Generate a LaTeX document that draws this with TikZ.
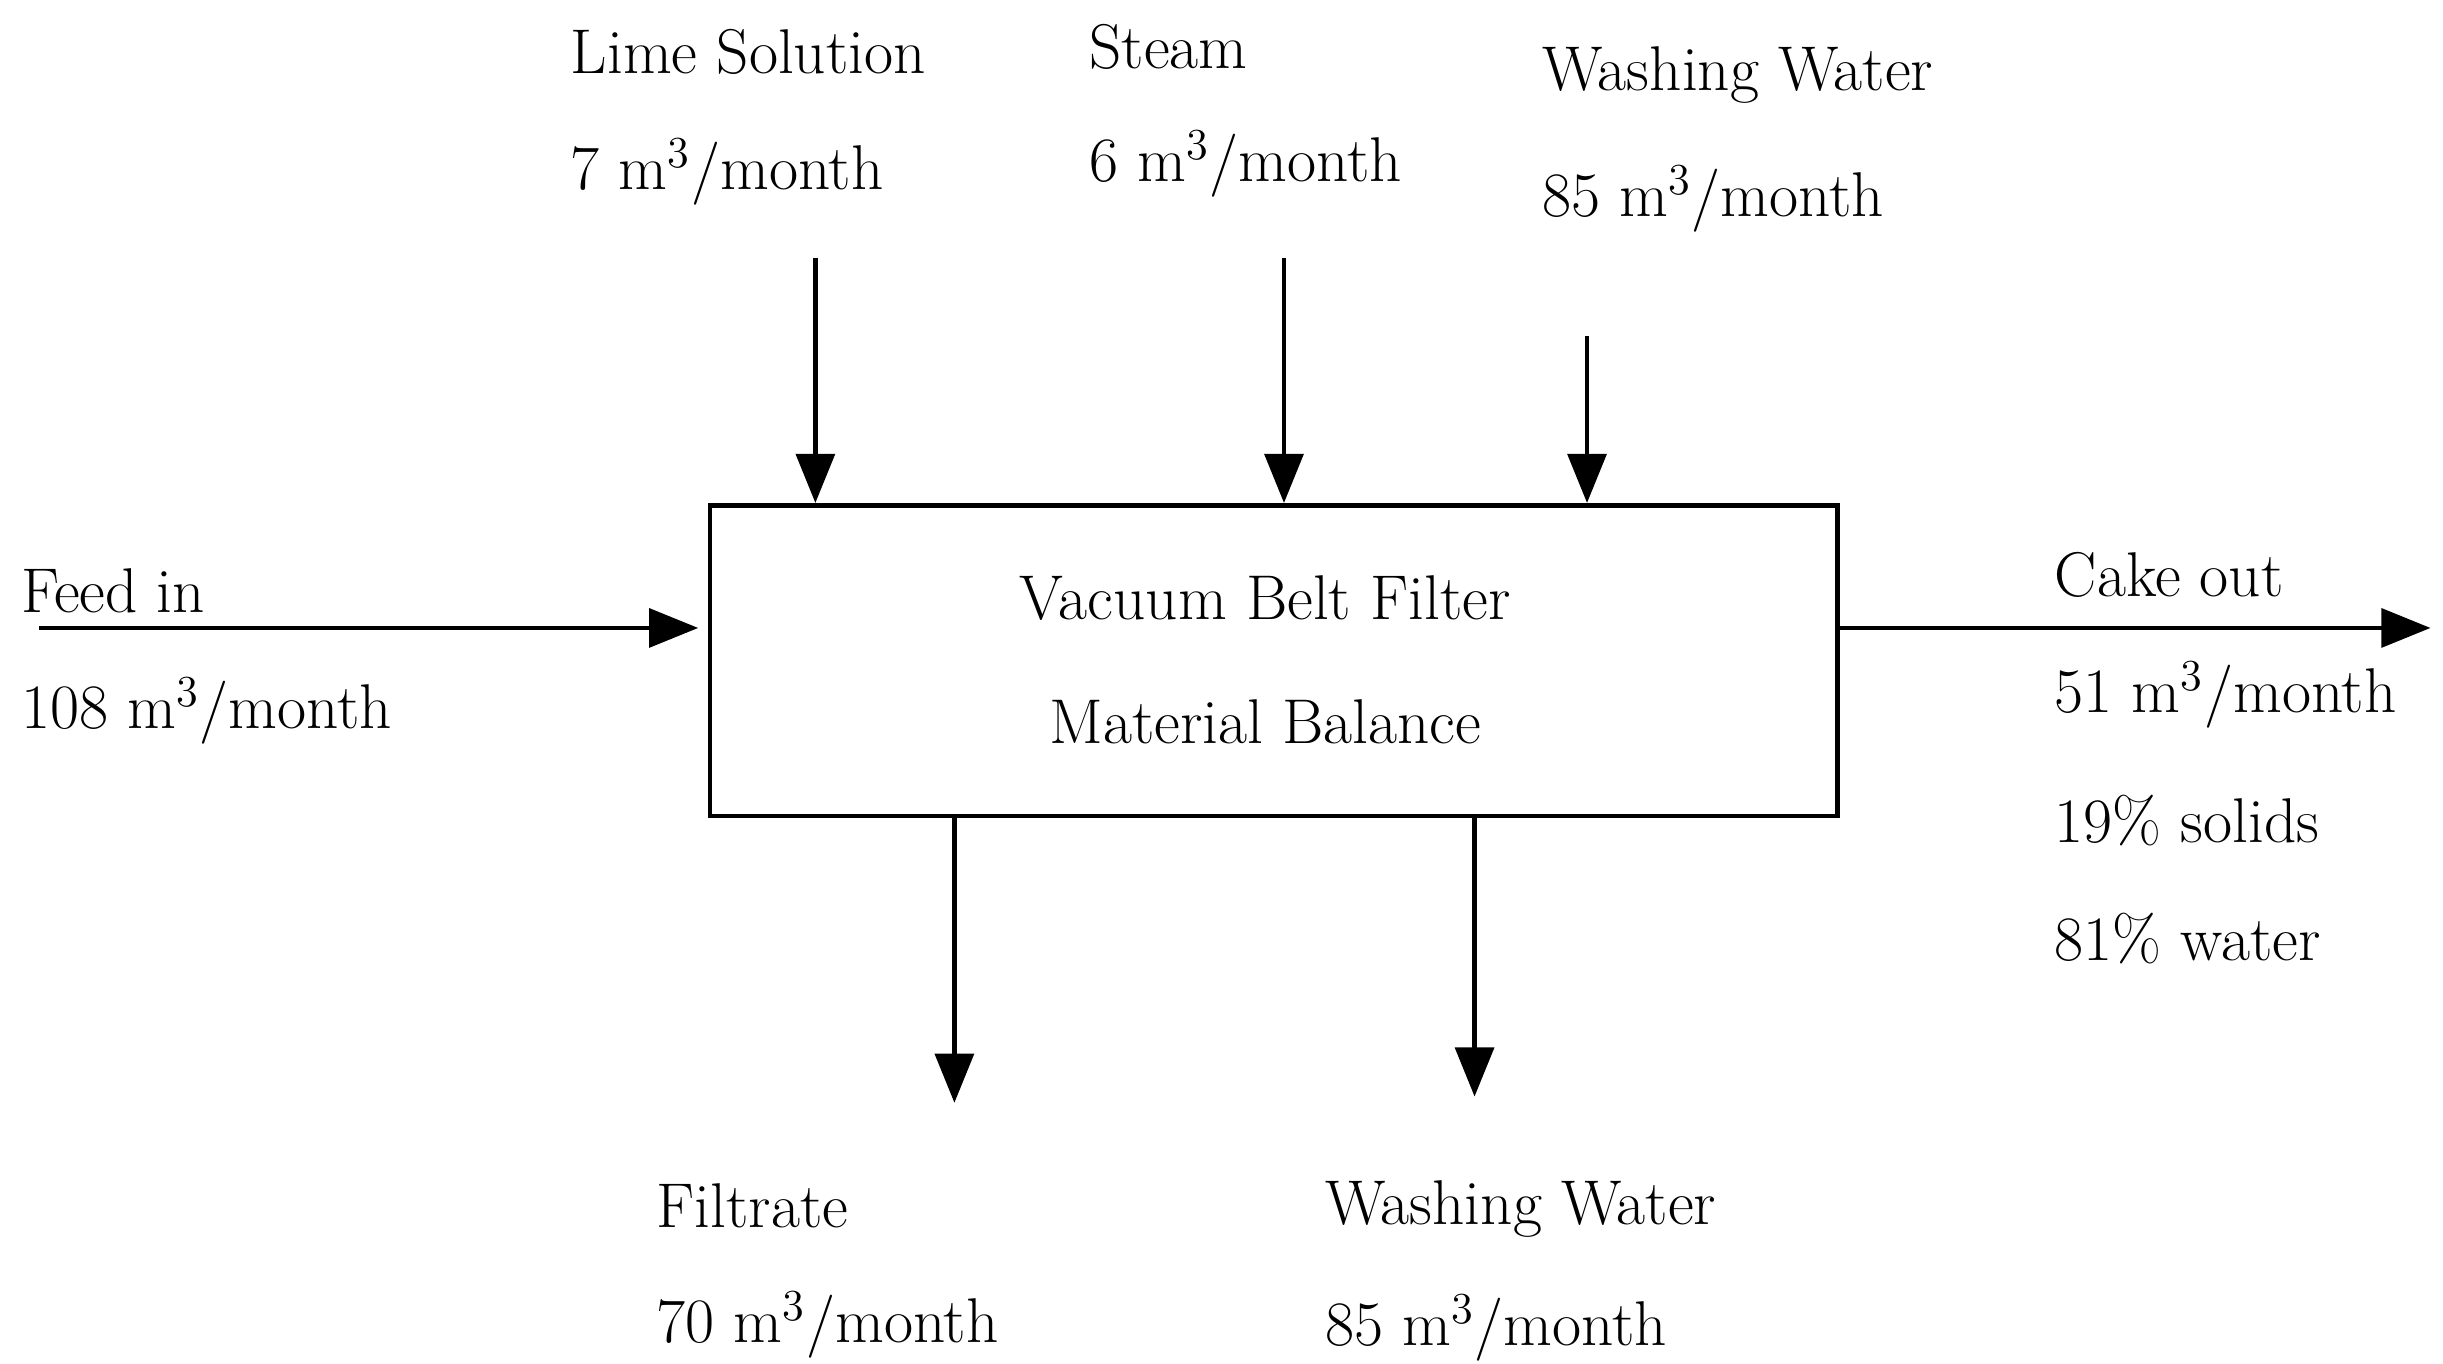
\documentclass[tikz,border=0pt]{standalone}
\usetikzlibrary{arrows.meta}
\begin{document}
\begin{tikzpicture}[x=0.01562cm,y=-0.01562cm,
  lbl/.style={anchor=west,inner sep=0pt,font=\fontsize{18}{22}\selectfont},
  flow/.style={line width=1.3pt,-{Triangle[length=14pt,width=11pt]}}]
\useasboundingbox (0,0) rectangle (1564,873);
\node[draw,line width=1.3pt,minimum width=722*0.01562cm,minimum height=199*0.01562cm,anchor=north west] (box) at (453,322) {};
\node[font=\fontsize{18}{22}\selectfont] (t1) at (810,383) {Vacuum Belt Filter};
\node[font=\fontsize{18}{22}\selectfont] (t2) at (810,462) {Material Balance};
\node[lbl] (l1) at (365,33) {Lime Solution};
\node[lbl] (l2) at (365,110) {7 m\textsuperscript{3}/month};
\node[lbl] (s1) at (697,30) {Steam};
\node[lbl] (s2) at (697,105) {6 m\textsuperscript{3}/month};
\node[lbl] (w1) at (987,48) {Washing Water};
\node[lbl] (w2) at (987,127) {85 m\textsuperscript{3}/month};
\node[lbl] (f1) at (13,378) {Feed in};
\node[lbl] (f2) at (13,455) {108 m\textsuperscript{3}/month};
\node[lbl] (c1) at (1315,368) {Cake out};
\node[lbl] (c2) at (1315,445) {51 m\textsuperscript{3}/month};
\node[lbl] (c3) at (1315,525) {19\% solids};
\node[lbl] (c4) at (1315,601) {81\% water};
\node[lbl] (b1) at (420,772) {Filtrate};
\node[lbl] (b2) at (420,848) {70 m\textsuperscript{3}/month};
\node[lbl] (d1) at (848,774) {Washing Water};
\node[lbl] (d2) at (848,850) {85 m\textsuperscript{3}/month};
\coordinate (a1) at (522,165); \coordinate (a1e) at (522,322);
\coordinate (a2) at (822,165); \coordinate (a2e) at (822,322);
\coordinate (a3) at (1016,215); \coordinate (a3e) at (1016,322);
\coordinate (fa) at (25,402); \coordinate (fae) at (447,402);
\coordinate (ca) at (1175,402); \coordinate (cae) at (1556,402);
\coordinate (ba) at (611,521); \coordinate (bae) at (611,706);
\coordinate (da) at (944,521); \coordinate (dae) at (944,702);
\draw[flow] (a1) -- (a1e);
\draw[flow] (a2) -- (a2e);
\draw[flow] (a3) -- (a3e);
\draw[flow] (fa) -- (fae);
\draw[flow] (ca) -- (cae);
\draw[flow] (ba) -- (bae);
\draw[flow] (da) -- (dae);
\end{tikzpicture}
\end{document}
